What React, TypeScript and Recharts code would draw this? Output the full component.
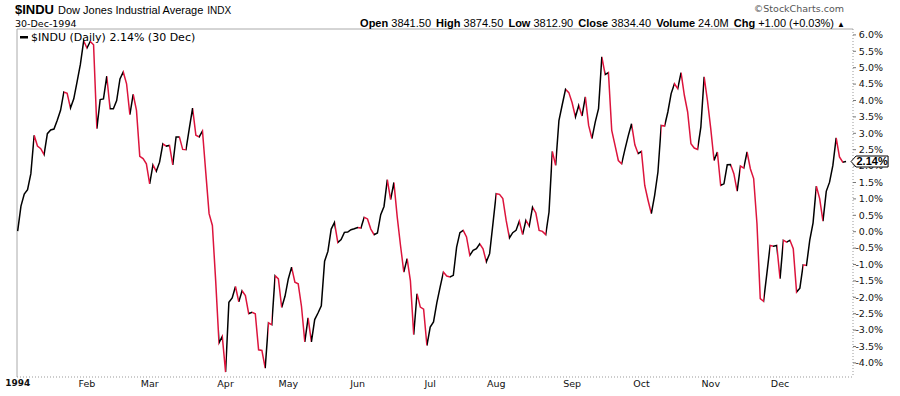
import { LineChart, Line, XAxis, YAxis, ReferenceLine, ReferenceDot } from 'recharts';

// % change of $INDU vs. 31-Dec-1993 close, one value per trading day of 1994
const jan = [0.02, 0.78, 1.15, 1.28, 1.77, 2.94, 2.61, 2.53, 2.35, 2.99, 3.10, 3.13, 3.40, 3.70, 4.26, 4.22, 3.77, 4.05, 4.57, 5.10, 5.82];
const feb = [5.60, 5.80, 5.70, 3.14, 4.03, 4.05, 4.74, 3.75, 3.75, 4.00, 4.66, 4.87, 4.51, 3.57, 4.19, 3.70, 2.30, 2.23, 2.07];
const mar = [1.46, 2.04, 1.84, 2.12, 2.68, 2.61, 2.63, 2.04, 2.89, 2.89, 2.51, 2.50, 3.14, 3.77, 2.94, 2.89, 3.07, 1.80, 0.55, 0.19, -1.50, -3.39, -3.19];
const apr = [-4.28, -2.15, -2.02, -1.67, -2.14, -1.80, -1.95, -2.50, -2.46, -2.50, -3.60, -3.62, -4.16, -2.78, -2.84, -1.34, -1.44, -2.31, -1.97];
const may = [-1.44, -1.08, -1.54, -1.59, -2.28, -3.36, -2.63, -3.36, -2.68, -2.48, -2.26, -0.90, -0.60, 0.08, 0.28, -0.33, -0.24, -0.02, -0.01, 0.06, 0.09];
const jun = [0.13, 0.11, 0.44, 0.39, 0.08, -0.09, -0.04, 0.52, 0.77, 1.59, 0.98, 1.50, 0.45, -0.42, -1.23, -0.82, -1.50, -3.14, -1.89, -2.30, -2.36, -3.47];
const jul = [-2.91, -2.75, -2.17, -1.69, -1.23, -1.35, -1.38, -1.33, -0.47, -0.03, 0.04, -0.16, -0.72, -0.57, -0.52, -0.37, -0.52, -0.92, -0.67, 0.24];
const aug = [1.16, 1.14, 1.01, 0.35, -0.19, -0.03, 0.04, 0.32, -0.09, 0.35, 0.17, 0.75, 0.57, 0.04, 0.01, -0.09, 0.60, 2.45, 2.02, 3.39, 3.87, 4.34, 4.24];
const sep = [3.93, 3.50, 3.85, 3.53, 4.11, 3.24, 2.84, 3.34, 3.75, 5.33, 4.79, 4.85, 3.09, 2.63, 2.17, 2.07, 2.51, 2.92, 3.29, 2.65, 2.38];
const oct = [2.45, 1.41, 0.96, 0.55, 1.11, 1.82, 3.24, 3.22, 3.65, 4.21, 4.51, 4.36, 4.85, 4.16, 3.65, 2.68, 2.55, 2.51, 3.19, 4.72, 4.00];
const nov = [3.14, 2.17, 2.43, 1.41, 1.46, 2.04, 2.05, 1.77, 1.24, 2.00, 1.94, 2.43, 1.92, 1.62, 0.25, -2.04, -2.12, -1.28, -0.42, -0.44, -0.42];
const dec = [-1.43, -0.26, -0.32, -0.26, -0.52, -1.84, -1.72, -1.01, -1.03, -0.26, 0.27, 1.39, 1.01, 0.32, 1.23, 1.51, 2.02, 2.86, 2.28, 2.12, 2.14];

const pct = [...jan, ...feb, ...mar, ...apr, ...may, ...jun, ...jul, ...aug, ...sep, ...oct, ...nov, ...dec];

// index of first trading day of each month
const monthStarts = [0, 21, 40, 63, 82, 103, 125, 145, 168, 189, 210, 231];
const monthLabels = ['1994', 'Feb', 'Mar', 'Apr', 'May', 'Jun', 'Jul', 'Aug', 'Sep', 'Oct', 'Nov', 'Dec'];
const yTicks = [-4, -3.5, -3, -2.5, -2, -1.5, -1, -0.5, 0, 0.5, 1, 1.5, 2, 2.5, 3, 3.5, 4, 4.5, 5, 5.5, 6];

const data = pct.map((v, i) => ({ i, v }));
const last = pct[pct.length - 1];

const UP = '#000000';
const DOWN = '#dc143c';
const X_MIN = -0.2;
const X_MAX = 253.1;
const Y_MIN = -4.43;
const Y_MAX = 6.18;
const AXIS_FONT = '"DejaVu Sans", Verdana, sans-serif';
const HEAD_FONT = '"Liberation Sans", Arial, sans-serif';

// hard colour stops: black for a rising segment, red for a falling one
const n = pct.length;
const stops: JSX.Element[] = [];
for (let k = 0; k < n - 1; k++) {
  const c = pct[k + 1] >= pct[k] ? UP : DOWN;
  stops.push(<stop key={`a${k}`} offset={k / (n - 1)} stopColor={c} />);
  stops.push(<stop key={`b${k}`} offset={(k + 1) / (n - 1)} stopColor={c} />);
}

function XTick({ x, y, payload }: any) {
  const idx = monthStarts.indexOf(payload.value);
  const first = idx === 0;
  return (
    <text x={x} y={y} dy="0.71em" textAnchor="middle" fontFamily={AXIS_FONT}
      fontSize={first ? 9 : 9.5} fontWeight={first ? 'bold' : 'normal'} fill="#111">
      {monthLabels[idx]}
    </text>
  );
}

function YTick({ x, y, payload }: any) {
  return (
    <text x={x + 25} y={y} dy="0.35em" textAnchor="end" fontFamily={AXIS_FONT} fontSize={9.5} fill="#111">
      {Number(payload.value).toFixed(1)}%
    </text>
  );
}

function LastTag({ cx, cy }: any) {
  const x0 = cx + 5;
  return (
    <g>
      <path
        d={`M${x0},${cy} L${x0 + 5},${cy - 5.5} L${x0 + 37},${cy - 5.5} L${x0 + 37},${cy + 5.5} L${x0 + 5},${cy + 5.5} Z`}
        fill="#fff" stroke="#000" strokeWidth={1}
      />
      <text x={x0 + 21} y={cy} dy="0.36em" textAnchor="middle" fontFamily={HEAD_FONT} fontSize={11} fontWeight="bold" fill="#000">
        {last.toFixed(2)}%
      </text>
    </g>
  );
}

export default function App() {
  return (
    <div style={{ position: 'absolute', left: 0, top: 0, width: 900, height: 396, background: '#fff' }}>
      <LineChart width={900} height={396} data={data} margin={{ top: 29, right: 0, bottom: 0, left: 17 }}>
        <defs>
          <linearGradient id="segColor" x1="0" y1="0" x2="1" y2="0">
            {stops}
          </linearGradient>
        </defs>
        <XAxis
          dataKey="i" type="number" domain={[X_MIN, X_MAX]} allowDataOverflow
          ticks={monthStarts} tick={<XTick />} height={19} interval={0}
          tickLine={false} tickSize={0} tickMargin={3}
          axisLine={{ stroke: '#999', strokeDasharray: '1 2' }}
        />
        <YAxis
          orientation="right" type="number" domain={[Y_MIN, Y_MAX]} allowDataOverflow
          ticks={yTicks} tick={<YTick />} width={47} interval={0}
          tickSize={3} tickMargin={2} tickLine={{ stroke: '#777' }}
          axisLine={{ stroke: '#999', strokeDasharray: '1 2' }}
        />
        <ReferenceLine y={Y_MAX} stroke="#aaa" />
        <ReferenceLine x={X_MIN} stroke="#aaa" />
        <Line type="linear" dataKey="v" stroke="url(#segColor)" strokeWidth={1.5} dot={false} isAnimationActive={false} />
        <ReferenceDot x={n - 1} y={last} r={0} shape={<LastTag />} zIndex={2000} />
      </LineChart>

      <svg width={900} height={396} style={{ position: 'absolute', left: 0, top: 0, pointerEvents: 'none' }}>
        <text x={15} y={14} fontFamily={HEAD_FONT} fill="#000">
          <tspan fontSize={13} fontWeight="bold">$INDU</tspan>
          <tspan fontSize={11} dx={4}>Dow Jones Industrial Average</tspan>
          <tspan fontSize={10} dx={4}>INDX</tspan>
        </text>
        <text x={15} y={27} fontFamily={AXIS_FONT} fontSize={9.5} fill="#000">30-Dec-1994</text>
        <text x={844} y={12} textAnchor="end" fontFamily={AXIS_FONT} fontSize={9.5} fill="#555">©StockCharts.com</text>
        <text x={845} y={27} textAnchor="end" fontFamily={HEAD_FONT} fontSize={11} fill="#000">
          <tspan fontWeight="bold">Open</tspan><tspan> 3841.50 </tspan>
          <tspan fontWeight="bold" dx={2}>High</tspan><tspan> 3874.50 </tspan>
          <tspan fontWeight="bold" dx={2}>Low</tspan><tspan> 3812.90 </tspan>
          <tspan fontWeight="bold" dx={2}>Close</tspan><tspan> 3834.40 </tspan>
          <tspan fontWeight="bold" dx={2}>Volume</tspan><tspan> 24.0M </tspan>
          <tspan fontWeight="bold" dx={2}>Chg</tspan><tspan> +1.00 (+0.03%) </tspan>
          <tspan fontSize={8}>▲</tspan>
        </text>
        <rect x={20} y={36} width={8} height={2.5} fill="#000" />
        <text x={31} y={41} fontFamily={AXIS_FONT} fontSize={11} fill="#000">
          $INDU (Daily) {last.toFixed(2)}% (30 Dec)
        </text>
      </svg>
    </div>
  );
}
